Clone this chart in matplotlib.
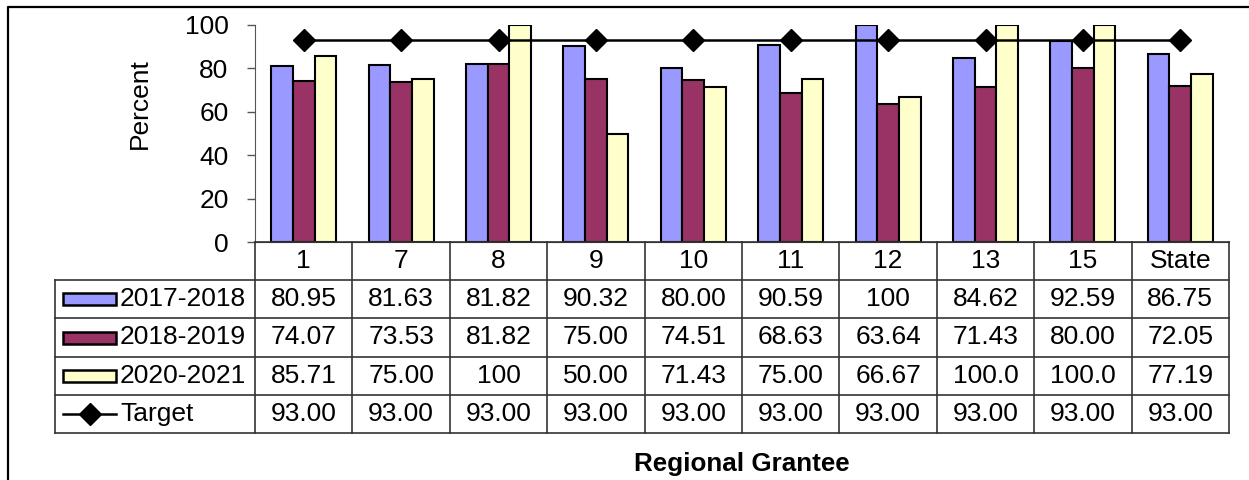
import matplotlib
matplotlib.use("Agg")
import matplotlib.pyplot as plt
from matplotlib.lines import Line2D
from matplotlib.patches import Rectangle

plt.rcParams['font.family'] = ['Liberation Sans', 'DejaVu Sans']

categories = ["1", "7", "8", "9", "10", "11", "12", "13", "15", "State"]
series_names = ["2017-2018", "2018-2019", "2020-2021"]
lbl_2017 = ["80.95", "81.63", "81.82", "90.32", "80.00", "90.59", "100", "84.62", "92.59", "86.75"]
lbl_2018 = ["74.07", "73.53", "81.82", "75.00", "74.51", "68.63", "63.64", "71.43", "80.00", "72.05"]
lbl_2020 = ["85.71", "75.00", "100", "50.00", "71.43", "75.00", "66.67", "100.0", "100.0", "77.19"]
lbl_target = ["93.00"] * 10
series_colors = ["#9999FF", "#993366", "#FFFFCC"]
yticks = [0, 20, 40, 60, 80, 100]

FS = 19
W, H = 1249, 480
fig = plt.figure(figsize=(W / 100, H / 100), dpi=100)

def fx(px):
    return px / W

def fy(py):
    return 1 - py / H

# geometry in pixels
ax_l, ax_r, ax_t, ax_b = 255, 1229, 25, 242
tab_l, tab_b = 55, 433

ax = fig.add_axes([fx(ax_l), fy(ax_b), fx(ax_r) - fx(ax_l), fy(ax_t) - fy(ax_b)])
n = len(categories)
bw = 0.222
series_vals = [[float(s) for s in lbl_2017], [float(s) for s in lbl_2018], [float(s) for s in lbl_2020]]
for k, (vals, col) in enumerate(zip(series_vals, series_colors)):
    xs = [i + 0.5 + (k - 1) * bw for i in range(n)]
    ax.bar(xs, vals, width=bw, color=col, edgecolor="black", linewidth=1.5, zorder=2)
target_vals = [float(s) for s in lbl_target]
ax.plot([i + 0.5 for i in range(n)], target_vals, color="black", linewidth=1.8,
        marker="D", markersize=11, zorder=3, clip_on=False)
ax.set_xlim(0, n)
ax.set_ylim(0, 100)
ax.set_yticks(yticks)
ax.set_yticklabels([str(v) for v in yticks], fontsize=FS)
ax.set_xticks([])
ax.tick_params(axis="y", direction="out", length=6, width=1, pad=13, color="#555555")
for s in ["top", "right"]:
    ax.spines[s].set_visible(False)
ax.spines["left"].set_color("#555555")
ax.spines["bottom"].set_color("#333333")
ax.patch.set_alpha(0)

# table
row_h = (tab_b - ax_b) / 5
col_w = (ax_r - ax_l) / n
L = (ax_l - tab_l) / col_w
tx = fig.add_axes([fx(tab_l), fy(tab_b), fx(ax_r) - fx(tab_l), fy(ax_b) - fy(tab_b)])
tx.set_xlim(-L, n)
tx.set_ylim(5, 0)
tx.axis("off")
lc = "#333333"
lw = 1.2
tx.plot([0, n], [0, 0], color=lc, lw=lw, clip_on=False)
for r in range(1, 6):
    tx.plot([-L, n], [r, r], color=lc, lw=lw, clip_on=False)
for c in range(n + 1):
    tx.plot([c, c], [0, 5], color=lc, lw=lw, clip_on=False)
tx.plot([-L, -L], [1, 5], color=lc, lw=lw, clip_on=False)

for i, c in enumerate(categories):
    tx.text(i + 0.5, 0.5, c, ha="center", va="center", fontsize=FS)
rows = [lbl_2017, lbl_2018, lbl_2020, lbl_target]
for r, labels in enumerate(rows):
    for i, s in enumerate(labels):
        tx.text(i + 0.5, r + 1.5, s, ha="center", va="center", fontsize=FS)

# legend keys
kx0 = -L + (63 - tab_l) / col_w
kx1 = -L + (116 - tab_l) / col_w
kh = 12 / row_h
for r, (name, col) in enumerate(zip(series_names, series_colors)):
    tx.add_patch(Rectangle((kx0, r + 1.5 - kh / 2), kx1 - kx0, kh, facecolor=col,
                           edgecolor="black", linewidth=1.8))
    tx.text(-L + (120 - tab_l) / col_w, r + 1.5, name, ha="left", va="center", fontsize=FS)
tx.plot([kx0, kx1], [4.5, 4.5], color="black", lw=1.8)
tx.plot([(kx0 + kx1) / 2], [4.5], marker="D", color="black", markersize=11)
tx.text(-L + (120 - tab_l) / col_w, 4.5, "Target", ha="left", va="center", fontsize=FS)

# axis labels
fig.text(fx(140), fy(104), "Percent", rotation=90, ha="center", va="center", fontsize=FS)
fig.text(fx(742), fy(464), "Regional Grantee", ha="center", va="center",
         fontsize=18.7, fontweight="bold")

# outer frame (extends beyond the picture)
fig.add_artist(Line2D([fx(8), fx(8), fx(1260)], [fy(500), fy(7), fy(7)], color="black", lw=1.6))

fig.savefig("out.png", dpi=100)
